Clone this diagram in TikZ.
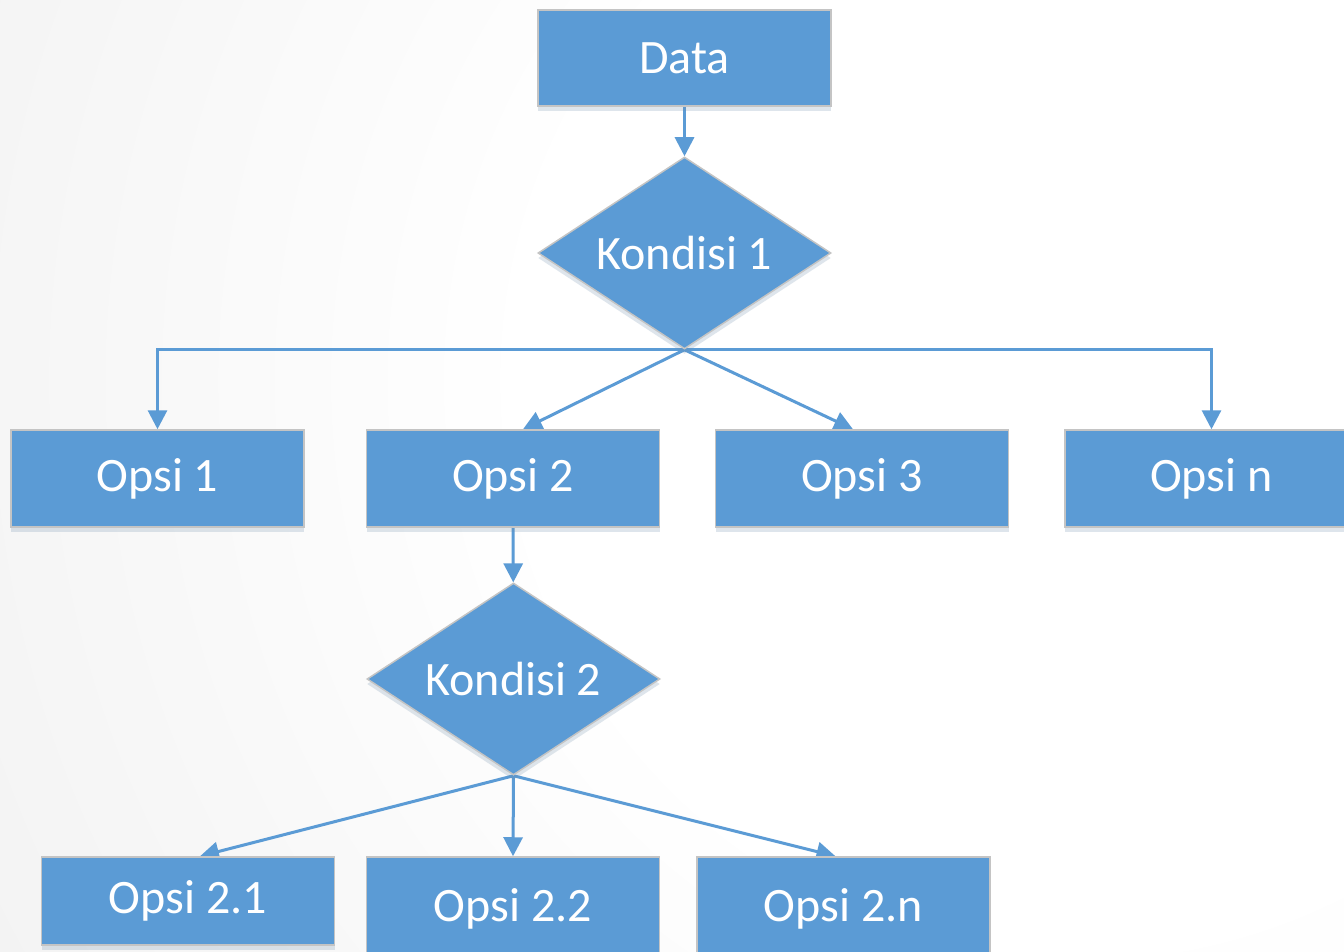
\documentclass[tikz,border=0pt]{standalone}
\usepackage{fontspec}
\setmainfont{Carlito}
\usetikzlibrary{shapes.geometric,arrows.meta,shadows,calc}
\definecolor{boxblue}{HTML}{5B9BD5}
\definecolor{edgegray}{HTML}{C4C4C4}
\definecolor{bggray}{HTML}{E0E0E0}
\pgfdeclarelayer{bglayer}
\pgfdeclarelayer{lines}
\pgfsetlayers{bglayer,lines,main}
\pgfdeclareradialshading{bgshade}{\pgfpoint{0bp}{0bp}}{color(0bp)=(white); color(12bp)=(white); color(50bp)=(bggray)}
\begin{document}
\begin{tikzpicture}[x=1pt,y=-1pt,
  shapebase/.style={fill=boxblue, draw=edgegray, line width=1.5pt, inner sep=0pt,
    text=white, font=\fontsize{48}{56}\selectfont,
    drop shadow={shadow xshift=0pt, shadow yshift=-5pt, fill=boxblue!50!gray, opacity=0.22}},
  box/.style={shapebase, rectangle, minimum width=293pt, minimum height=97pt},
  dec/.style={shapebase, diamond, aspect=1.5, minimum width=293pt, minimum height=192pt},
  conn/.style={draw=boxblue, line width=3pt, -{Triangle[width=19pt,length=19pt]}}]
\useasboundingbox (0,0) rectangle (1344,952);
\begin{pgfonlayer}{bglayer}
  \clip (0,0) rectangle (1344,952);
  \shade[shading=bgshade] (-70,-770) rectangle (2230,1530);
\end{pgfonlayer}

\node[box, minimum height=96pt] (data) at (684.5,58) {Data};
\node[dec] (k1) at (684.5,253) {Kondisi 1};
\node[box] (o1) at (157.5,478.5) {Opsi 1};
\node[box] (o2) at (513,478.5) {Opsi 2};
\node[box] (o3) at (862,478.5) {Opsi 3};
\node[box] (on) at (1211.5,478.5) {Opsi n};
\node[dec] (k2) at (513.5,679) {Kondisi 2};
\node[box, minimum height=88pt] (o21) at (188,901) {Opsi 2.1};
\node[box, minimum height=104pt] (o22) at (513,909) {Opsi 2.2};
\node[box, minimum height=104pt] (o2n) at (843.5,909) {Opsi 2.n};

\begin{pgfonlayer}{lines}
  \draw[conn] (data) -- (k1);
  \draw[conn] (k1.south) -| (o1.north);
  \draw[conn] (k1.south) -| (on.north);
  \draw[conn] (k1.south) -- ($(o2.north)+(10,0)$);
  \draw[conn] (k1.south) -- ($(o3.north)+(-9,0)$);
  \draw[conn] (o2) -- (k2);
  \draw[conn] (k2.south) -- ($(o21.north)+(12,0)$);
  \draw[conn] (k2.south) -- (o22.north);
  \draw[conn] (k2.south) -- ($(o2n.north)+(-8,0)$);
\end{pgfonlayer}
\end{tikzpicture}
\end{document}
